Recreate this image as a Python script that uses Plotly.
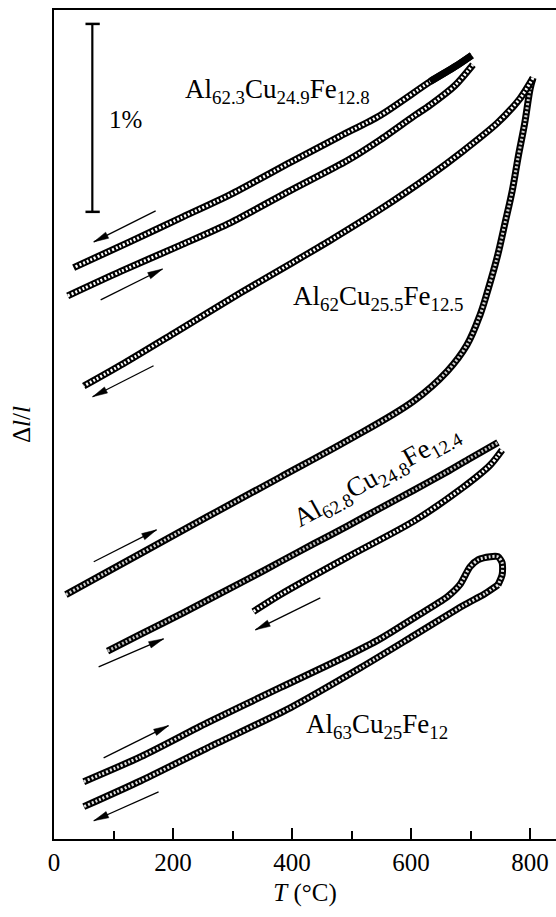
import math
import plotly.graph_objects as go

# ---- dilatometer runs: temperature (°C) and relative elongation (%, offset per alloy) ----
# Al62.3Cu24.9Fe12.8
t_a_heat = [23, 112, 213, 297, 397, 493, 548, 604, 632, 674, 704]
d_a_heat = [2.89, 3.02, 3.16, 3.28, 3.45, 3.61, 3.72, 3.845, 3.905, 4.01, 4.12]
t_a_cool = [702, 674, 632, 548, 481, 397, 297, 213, 129, 33]
d_a_cool = [4.17, 4.11, 4.03, 3.85, 3.74, 3.60, 3.43, 3.305, 3.18, 3.04]

# Al62Cu25.5Fe12.5
t_b_heat = [20, 146, 258, 380, 493, 604, 661, 694, 716, 729, 745, 758, 770, 780, 791, 800, 805]
d_b_heat = [1.30, 1.52, 1.715, 1.925, 2.12, 2.33, 2.49, 2.63, 2.79, 2.92, 3.10, 3.28, 3.45, 3.63,
            3.81, 3.99, 4.05]
t_b_cool = [805, 783, 745, 687, 632, 548, 464, 397, 313, 201, 117, 50]
d_b_cool = [4.05, 3.94, 3.81, 3.66, 3.53, 3.35, 3.185, 3.06, 2.905, 2.69, 2.53, 2.41]

# Al62.8Cu24.8Fe12.4
t_c_heat = [90, 146, 218, 330, 380, 436, 493, 548, 604, 661, 699, 746]
d_c_heat = [1.00, 1.09, 1.205, 1.39, 1.475, 1.57, 1.665, 1.76, 1.855, 1.955, 2.025, 2.11]
t_c_cool = [753, 733, 687, 604, 493, 380, 335]
d_c_cool = [2.07, 1.99, 1.87, 1.69, 1.50, 1.30, 1.21]

# Al63Cu25Fe12
t_d_heat = [50, 146, 258, 380, 493, 548, 604, 661, 682, 699, 713, 733, 746, 753, 753, 746]
d_d_heat = [0.305, 0.438, 0.619, 0.805, 0.975, 1.065, 1.175, 1.289, 1.353, 1.448, 1.486,
            1.502, 1.502, 1.470, 1.406, 1.352]
t_d_cool = [746, 724, 687, 604, 515, 397, 258, 146, 50]
d_d_cool = [1.352, 1.305, 1.241, 1.081, 0.911, 0.698, 0.485, 0.310, 0.172]

# alloy labels: text, T, Δl/l, rotation
label_text = ["Al<sub>62.3</sub>Cu<sub>24.9</sub>Fe<sub>12.8</sub>",
              "Al<sub>62</sub>Cu<sub>25.5</sub>Fe<sub>12.5</sub>",
              "Al<sub>62.8</sub>Cu<sub>24.8</sub>Fe<sub>12.4</sub>",
              "Al<sub>63</sub>Cu<sub>25</sub>Fe<sub>12</sub>"]
label_t = [375, 546, 543, 543]
label_d = [3.98, 2.88, 1.925, 0.60]
label_rot = [0, 0, -29, 0]

# heating / cooling direction arrows: (T tail, Δl/l tail, T head, Δl/l head)
arrows = [
    (170.8, 3.342, 66.8, 3.177),
    (78.4, 2.869, 182.4, 3.033),
    (167.3, 2.518, 64.9, 2.353),
    (66.8, 1.475, 172.3, 1.645),
    (75.0, 0.916, 184.1, 1.065),
    (447.5, 1.283, 338.4, 1.113),
    (83.4, 0.432, 192.4, 0.603),
    (175.7, 0.251, 66.8, 0.097),
]

# 1 % scale bar
bar_t = 64.4
bar_lo, bar_hi = 3.337, 4.337

x_range = [0, 843.5]
y_range = [0, 4.411]
W, H = 556, 917
M = dict(l=54, r=0, t=10, b=78)
FONT = "Liberation Serif, Times New Roman, serif"

fig = go.Figure()


def add_branch(t, d, inner="white", smooth=0.7):
    """Open-symbol chain: dark band with a broken light core."""
    fig.add_trace(go.Scatter(x=t, y=d, mode="lines", hoverinfo="skip", showlegend=False,
                             line=dict(color="black", width=7, shape="spline",
                                       smoothing=smooth)))
    fig.add_trace(go.Scatter(x=t, y=d, mode="lines", hoverinfo="skip", showlegend=False,
                             line=dict(color=inner, width=3, shape="spline", smoothing=smooth,
                                       dash="2px,2px")))


add_branch(t_a_heat, d_a_heat)
add_branch(t_a_cool, d_a_cool)
# densely overlapping symbols at the hot end of the cooling run
fig.add_trace(go.Scatter(x=t_a_cool[:3], y=d_a_cool[:3], mode="lines", hoverinfo="skip",
                         showlegend=False,
                         line=dict(color="black", width=7, shape="spline", smoothing=0.7)))
add_branch(t_b_heat, d_b_heat, inner="#d0d0d0", smooth=1.0)
add_branch(t_b_cool, d_b_cool)
add_branch(t_c_heat, d_c_heat, inner="#bdbdbd")
add_branch(t_c_cool, d_c_cool)
add_branch(t_d_heat, d_d_heat, inner="#e0e0e0")
add_branch(t_d_cool, d_d_cool, inner="#e0e0e0")

shapes = []
annotations = []

# arrows: shaft in data space, narrow head as a pixel-sized path at the tip
pw = W - M["l"] - M["r"]
ph = H - M["t"] - M["b"]
sx = pw / (x_range[1] - x_range[0])
sy = ph / (y_range[1] - y_range[0])
head_len, head_half = 15.0, 3.4
for (x0, y0, x1, y1) in arrows:
    shapes.append(dict(type="line", xref="x", yref="y", x0=x0, y0=y0, x1=x1, y1=y1,
                       line=dict(color="black", width=1.3)))
    dx, dy = (x1 - x0) * sx, (y1 - y0) * sy
    n = math.hypot(dx, dy)
    ux, uy = dx / n, dy / n
    bx, by = -head_len * ux, -head_len * uy
    nx, ny = -uy * head_half, ux * head_half
    path = (f"M0,0 L{bx + nx:.2f},{by + ny:.2f} L{bx - nx:.2f},{by - ny:.2f} Z")
    shapes.append(dict(type="path", xref="x", yref="y", xsizemode="pixel",
                       ysizemode="pixel", xanchor=x1, yanchor=y1, path=path,
                       fillcolor="black", line=dict(color="black", width=0.5)))

# scale bar
shapes.append(dict(type="line", xref="x", yref="y", x0=bar_t, x1=bar_t, y0=bar_lo, y1=bar_hi,
                   line=dict(color="black", width=2.2)))
for yy in (bar_lo, bar_hi):
    shapes.append(dict(type="line", xref="x", yref="y", x0=bar_t - 11.5, x1=bar_t + 12.5,
                       y0=yy, y1=yy, line=dict(color="black", width=2.5)))
annotations.append(dict(x=120, y=3.826, xref="x", yref="y", text="1%", showarrow=False,
                        font=dict(family=FONT, size=25, color="black")))

for txt, tx, ty, rot in zip(label_text, label_t, label_d, label_rot):
    annotations.append(dict(x=tx, y=ty, xref="x", yref="y", text=txt, showarrow=False,
                            textangle=rot, font=dict(family=FONT, size=27, color="black")))

fig.update_layout(
    width=W, height=H, margin=M,
    paper_bgcolor="white", plot_bgcolor="white",
    font=dict(family=FONT, size=25, color="black"),
    shapes=shapes, annotations=annotations, showlegend=False,
    xaxis=dict(range=x_range, tickvals=[0, 200, 400, 600, 800], ticks="inside",
               ticklen=11, tickwidth=1.5, tickcolor="black",
               minor=dict(dtick=100, tick0=0, ticks="inside", ticklen=8, tickwidth=1.5,
                          tickcolor="black"),
               showline=True, linewidth=2, linecolor="black", mirror=True,
               showgrid=False, zeroline=False,
               tickfont=dict(family=FONT, size=25, color="black"),
               title=dict(text="<i>T</i> (°C)", standoff=8,
                          font=dict(family=FONT, size=25, color="black"))),
    yaxis=dict(range=y_range, showticklabels=False, ticks="", showline=True, linewidth=2,
               linecolor="black", showgrid=False, zeroline=False,
               title=dict(text="Δ<i>l</i>/<i>l</i>", standoff=14,
                          font=dict(family=FONT, size=25, color="black"))),
)

fig.write_html("out.html")
